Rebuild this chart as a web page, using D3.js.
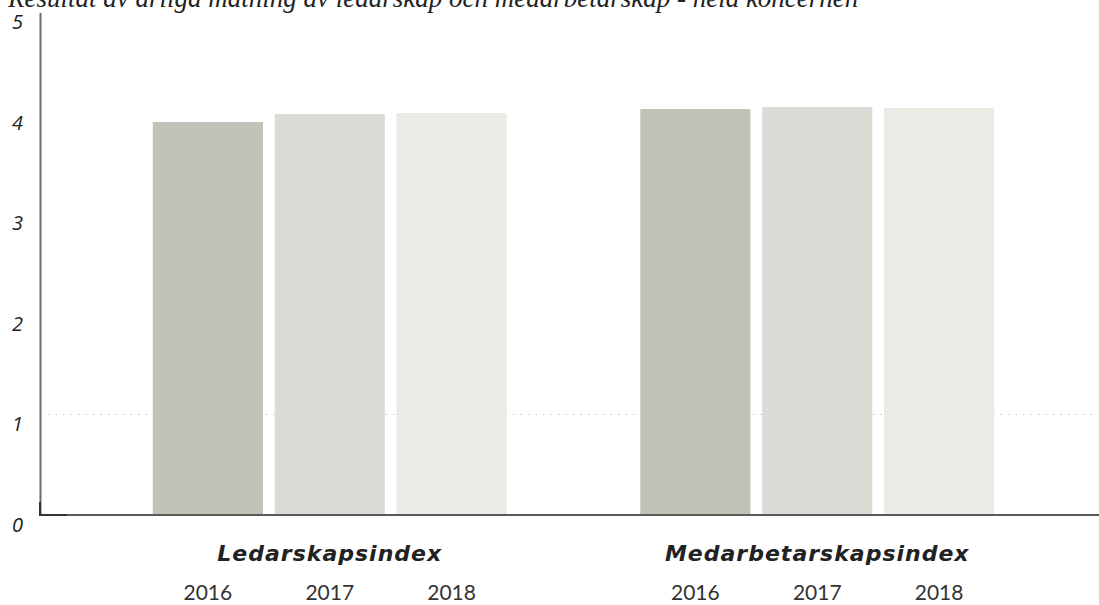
<!DOCTYPE html>
<html lang="sv">
<head>
<meta charset="utf-8">
<title>Ledarskap och medarbetarskap</title>
<script src="https://d3js.org/d3.v7.min.js"></script>
<style>
body{margin:0;background:#fff;overflow:hidden;}
.title{font-family:"Liberation Serif",serif;font-style:italic;font-size:27px;fill:#222;}
.ytick{font-family:"Open Sans",sans-serif;font-style:italic;font-size:20px;fill:#222;}
.cat{font-family:"DejaVu Sans",sans-serif;font-style:oblique;font-weight:bold;font-size:22px;fill:#222;letter-spacing:1px;}
.year{font-family:"Lato",sans-serif;font-size:21px;fill:#333;}
</style>
</head>
<body>
<svg width="1099" height="605"></svg>
<script>
// index groups and years
var categories = ["Ledarskapsindex", "Medarbetarskapsindex"];
var years = ["2016", "2017", "2018"];
// values (scale 0-5)
var ledarskap = [3.91, 3.99, 4.00];
var medarbetarskap = [4.04, 4.06, 4.05];
var yTicks = [0, 1, 2, 3, 4, 5];
var gridAt = [1];

var colors = ["#c2c2b9", "#dcdbd6", "#ebebe6"];

var svg = d3.select("svg");

var rows = [ledarskap, medarbetarskap].map(function(vals, i){
  return {cat: categories[i], values: years.map(function(y, j){ return {year: y, value: vals[j]}; })};
});

var y = d3.scaleLinear().domain([0, 5]).range([515, 12.5]);

var x0 = d3.scaleBand().domain(categories).range([86, 1061]).padding(0);
var x1 = d3.scaleBand().domain(years).range([0, x0.bandwidth()])
    .paddingInner(0.096).paddingOuter(0.548);
var color = d3.scaleOrdinal().domain(years).range(colors);

// title, cut off at the top like the original
svg.append("text").attr("class", "title")
    .attr("x", 8).attr("y", 7)
    .text("Resultat av årliga mätning av ledarskap och medarbetarskap - hela koncernen");

// dotted line at 1
svg.selectAll(".grid").data(gridAt).enter().append("line")
    .attr("x1", 48).attr("x2", 1096)
    .attr("y1", function(d){ return y(d); }).attr("y2", function(d){ return y(d); })
    .attr("stroke", "#c4c4c4").attr("stroke-width", 1.2)
    .attr("stroke-dasharray", "1.5,6");

// bars
var g = svg.selectAll(".grp").data(rows).enter().append("g")
    .attr("transform", function(d){ return "translate(" + x0(d.cat) + ",0)"; });

g.selectAll("rect").data(function(d){ return d.values; }).enter().append("rect")
    .attr("x", function(d){ return x1(d.year); })
    .attr("width", x1.bandwidth())
    .attr("y", function(d){ return y(d.value); })
    .attr("height", function(d){ return y(0) - y(d.value); })
    .attr("fill", function(d){ return color(d.year); });

g.selectAll(".year").data(function(d){ return d.values; }).enter().append("text")
    .attr("class", "year")
    .attr("x", function(d){ return x1(d.year) + x1.bandwidth() / 2; })
    .attr("y", 600)
    .attr("text-anchor", "middle")
    .text(function(d){ return d.year; });

g.append("text").attr("class", "cat")
    .attr("x", x0.bandwidth() / 2).attr("y", 561)
    .attr("text-anchor", "middle")
    .text(function(d){ return d.cat; });

// y axis
var yAxis = svg.append("g").attr("transform", "translate(40,0)")
    .call(d3.axisLeft(y).tickValues(yTicks).tickFormat(d3.format("d")).tickSize(0));
yAxis.select(".domain").attr("stroke", "#6e6e6e").attr("stroke-width", 2);
yAxis.selectAll("text").attr("class", "ytick").attr("dy", "0.8em")
    .attr("text-anchor", "start").attr("x", -28);

// baseline
svg.append("line").attr("x1", 40).attr("x2", 1099)
    .attr("y1", y(0)).attr("y2", y(0))
    .attr("stroke", "#5a5a5a").attr("stroke-width", 2);
svg.append("path").attr("d", "M40," + (y(0) - 13) + "V" + y(0) + "H67")
    .attr("fill", "none").attr("stroke", "#333").attr("stroke-width", 2);
</script>
</body>
</html>
